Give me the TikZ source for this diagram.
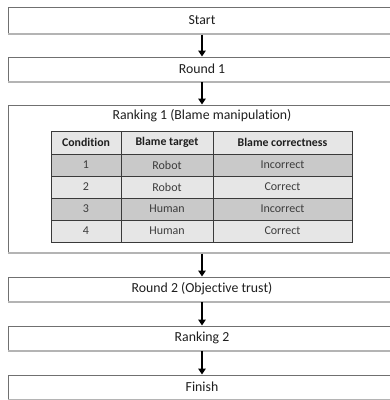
\documentclass[tikz,border=0pt]{standalone}
\usepackage{fontspec}
\setmainfont{Carlito}[RawFeature={-liga}]
\usetikzlibrary{arrows.meta}
\definecolor{boxline}{HTML}{707070}
\definecolor{shadowline}{HTML}{B4B4B4}
\definecolor{tabline}{HTML}{3A3A3A}
\definecolor{lightrow}{HTML}{E6E6E6}
\definecolor{darkrow}{HTML}{C9C9C9}
\definecolor{txt}{HTML}{1E1E1E}
\definecolor{celltxt}{HTML}{3C3C3C}
\tikzset{
  flowbox/.style={draw=boxline, line width=0.9pt, rectangle, minimum width=388pt,
    inner sep=0pt, outer sep=0pt, font=\fontsize{13.8}{15}\selectfont, text=txt},
  cell/.style={draw=tabline, line width=0.8pt, rectangle, inner sep=0pt, outer sep=0pt,
    minimum height=22pt, font=\fontsize{12}{13}\selectfont, text=celltxt},
  headcell/.style={cell, fill=lightrow, minimum height=23pt, font=\fontsize{11.8}{13}\selectfont\bfseries, text=txt},
  lrow/.style={cell, fill=lightrow},
  drow/.style={cell, fill=darkrow},
  colA/.style={minimum width=70pt},
  colB/.style={minimum width=92pt},
  colC/.style={minimum width=139pt},
  flowarrow/.style={-{Triangle[width=7.5pt,length=6pt]}, line width=2.2pt, black, shorten >=0.5pt},
  shadowedge/.style={shadowline, line width=1.4pt}
}
\begin{document}
\begin{tikzpicture}[x=1pt,y=-1pt]
\useasboundingbox (0,0) rectangle (390,400);
% flow boxes
\node[flowbox, minimum height=26pt] (start) at (202,20) {Start};
\node[flowbox, minimum height=24pt] (round1) at (202,69) {Round 1};
\node[flowbox, minimum height=147pt] (rank1) at (202,178.5) {};
\node[flowbox, minimum height=24pt] (round2) at (202,289) {Round 2 (Objective trust)};
\node[flowbox, minimum height=24pt] (rank2) at (202,338) {Ranking 2};
\node[flowbox, minimum height=24pt] (finish) at (202,387) {Finish};
% shadow edges
\foreach \b in {start,round1,rank1,round2,rank2,finish}{
  \draw[shadowedge] ([yshift=-0.9pt]\b.south west) -- ([yshift=-0.9pt]\b.south east);
}
% title of ranking box
\node[font=\fontsize{13.8}{15}\selectfont, text=txt, inner sep=0pt] (rank1title) at (202,116) {Ranking 1 (Blame manipulation)};
% table
\node[headcell, colA] (h1) at (86,142.5) {Condition};
\node[headcell, colB] (h2) at (167,142.5) {Blame target};
\node[headcell, colC] (h3) at (282.5,142.5) {Blame correctness};
\node[drow, colA] (a1) at (86,165) {1};
\node[drow, colB] (b1) at (167,165) {Robot};
\node[drow, colC] (c1) at (282.5,165) {Incorrect};
\node[lrow, colA] (a2) at (86,187) {2};
\node[lrow, colB] (b2) at (167,187) {Robot};
\node[lrow, colC] (c2) at (282.5,187) {Correct};
\node[drow, colA] (a3) at (86,209) {3};
\node[drow, colB] (b3) at (167,209) {Human};
\node[drow, colC] (c3) at (282.5,209) {Incorrect};
\node[lrow, colA] (a4) at (86,231) {4};
\node[lrow, colB] (b4) at (167,231) {Human};
\node[lrow, colC] (c4) at (282.5,231) {Correct};
\draw[tabline, line width=1pt] (h1.north west) rectangle (c4.south east);
% arrows
\draw[flowarrow] ([yshift=-1.5pt]start.south) -- (round1.north);
\draw[flowarrow] ([yshift=-1pt]round1.south) -- (rank1.north);
\draw[flowarrow] ([yshift=-1.5pt]rank1.south) -- (round2.north);
\draw[flowarrow] ([yshift=-1pt]round2.south) -- (rank2.north);
\draw[flowarrow] ([yshift=-1pt]rank2.south) -- (finish.north);
\end{tikzpicture}
\end{document}
